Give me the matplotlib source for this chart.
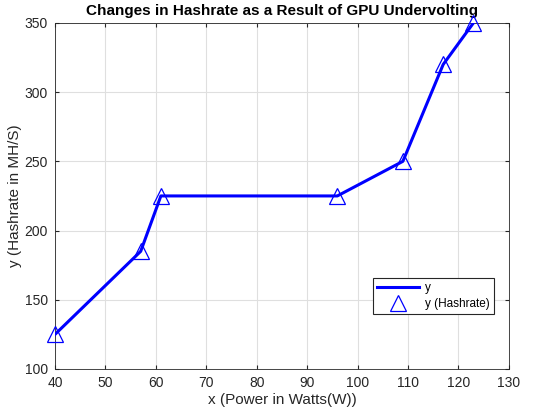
import matplotlib
matplotlib.use('Agg')
import matplotlib.pyplot as plt

# power (W) vs hashrate (MH/s)
power = [40, 57, 61, 96, 109, 117, 123]
hashrate = [125, 185, 225, 225, 250, 320, 350]

plt.rcParams['font.family'] = ['Liberation Sans', 'DejaVu Sans']

fig = plt.figure(figsize=(5.5, 4.16), dpi=100)
ax = fig.add_axes([0.1, 0.113, 0.825, 0.832])

ax.plot(power, hashrate, color='#0000ff', linewidth=2.2, label='y', zorder=3)
ax.plot(power, hashrate, linestyle='none', marker='^', markersize=11,
        markerfacecolor='none', markeredgecolor='#0000ff', markeredgewidth=0.9,
        label='y (Hashrate)', zorder=4, clip_on=False)

ax.set_xlim(40, 130)
ax.set_ylim(100, 350)
ax.set_xticks(range(40, 131, 10))
ax.set_yticks(range(100, 351, 50))
ax.grid(True, color='#dfdfdf', linewidth=0.8)
ax.set_axisbelow(True)
ax.tick_params(direction='in', length=3, labelsize=10, colors='#262626', pad=5,
               top=True, right=True)
for s in ax.spines.values():
    s.set_color('#262626')
    s.set_linewidth(0.6)

ax.set_xlabel('x (Power in Watts(W))', fontsize=11, color='#262626', labelpad=2)
ax.set_ylabel('y (Hashrate in MH/S)', fontsize=11, color='#262626', labelpad=2)
ax.set_title('Changes in Hashrate as a Result of GPU Undervolting',
             fontsize=11, fontweight='bold', pad=6)

leg = ax.legend(loc='lower right', bbox_to_anchor=(0.968, 0.159), borderaxespad=0,
                fontsize=8.5, fancybox=False, framealpha=1, edgecolor='#262626',
                handlelength=3.6, handletextpad=0.5, borderpad=0.35,
                labelspacing=0.35)
leg.get_frame().set_linewidth(0.8)

fig.savefig('out.png', dpi=100)
